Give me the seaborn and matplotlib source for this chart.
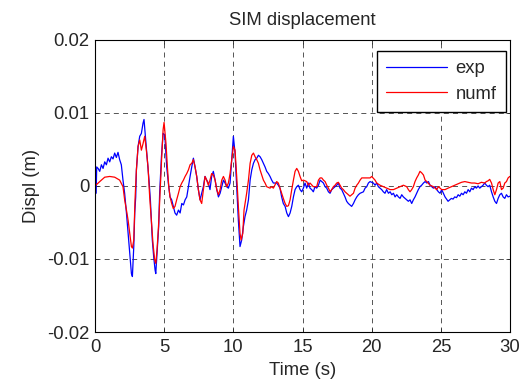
import seaborn as sns
import matplotlib.pyplot as plt
import pandas as pd

# exp (measured) -- time in s, displacement in mm
t_exp = [0.0, 0.08, 0.12, 0.22, 0.34, 0.46, 0.58, 0.70, 0.82, 0.94, 1.06, 1.18, 1.30, 1.42, 1.54,
         1.66, 1.78, 1.90, 2.02, 2.14, 2.27, 2.39, 2.51, 2.63, 2.70, 2.80, 2.87, 2.94, 2.99, 3.11,
         3.23, 3.35, 3.47, 3.54, 3.66, 3.76, 3.90, 4.00, 4.07, 4.14, 4.24, 4.34, 4.39, 4.48, 4.60,
         4.67, 4.80, 4.92, 5.04, 5.18, 5.30, 5.42, 5.54, 5.66, 5.78, 5.90, 6.03, 6.15, 6.27, 6.39,
         6.51, 6.63, 6.75, 6.87, 6.99, 7.11, 7.23, 7.35, 7.47, 7.59, 7.71, 7.83, 7.95, 8.07, 8.19,
         8.31, 8.43, 8.55, 8.68, 8.80, 8.92, 9.04, 9.16, 9.28, 9.40, 9.52, 9.64, 9.76, 9.88, 10.00,
         10.12, 10.24, 10.36, 10.48, 10.60, 10.72, 10.84, 10.96, 11.09, 11.21, 11.33, 11.45, 11.57,
         11.69, 11.81, 11.93, 12.05, 12.17, 12.29, 12.41, 12.53, 12.65, 12.77, 12.89, 13.13, 13.25,
         13.37, 13.49, 13.61, 13.74, 13.86, 13.98, 14.10, 14.22, 14.34, 14.46, 14.58, 14.70, 14.82,
         14.94, 15.06, 15.18, 15.30, 15.42, 15.54, 15.66, 15.78, 15.90, 16.02, 16.15, 16.27, 16.39,
         16.51, 16.63, 16.75, 16.87, 16.99, 17.11, 17.23, 17.35, 17.47, 17.59, 17.71, 17.83, 17.95,
         18.07, 18.19, 18.31, 18.43, 18.55, 18.68, 18.80, 18.92, 19.04, 19.16, 19.40, 19.52, 19.64,
         19.76, 19.88, 20.12, 20.24, 20.36, 20.48, 20.60, 20.72, 20.84, 20.96, 21.08, 21.21, 21.33,
         21.45, 21.57, 21.69, 21.81, 21.93, 22.05, 22.17, 22.29, 22.41, 22.53, 22.65, 22.77, 22.89,
         23.01, 23.13, 23.25, 23.37, 23.49, 23.61, 23.74, 23.86, 23.98, 24.10, 24.22, 24.34, 24.46,
         24.58, 24.70, 24.82, 24.94, 25.06, 25.18, 25.30, 25.52, 25.64, 25.76, 25.88, 26.00, 26.13,
         26.25, 26.37, 26.49, 26.61, 26.73, 26.85, 26.97, 27.09, 27.21, 27.33, 27.45, 27.57, 27.69,
         27.81, 27.93, 28.05, 28.17, 28.29, 28.41, 28.53, 28.66, 28.78, 28.90, 29.02, 29.14, 29.26,
         29.38, 29.50, 29.62, 29.74, 29.86, 30.00]
d_exp = [0.0, -1.0, 2.6, 2.4, 2.0, 2.9, 2.4, 3.3, 2.9, 3.8, 3.3, 4.0, 3.7, 4.5, 3.9,
         4.6, 3.6, 2.9, 0.8, -1.0, -3.7, -6.5, -9.2, -12.0, -12.4, -8.3, -3.7, -1.5, 2.2, 5.4,
         6.8, 7.2, 8.6, 9.1, 6.3, 4.0, 0.8, -1.9, -4.7, -7.4, -9.7, -11.5, -12.0, -9.2, -5.6,
         -1.0, 4.0, 7.2, 7.0, 2.6, 0.4, -1.5, -1.9, -2.8, -3.7, -4.0, -3.3, -3.7, -2.4, -2.6,
         -1.9, -1.5, -0.1, 1.3, 2.6, 3.8, 2.6, 1.3, -0.5, -1.9, -1.0, -0.1, 1.3, 0.8, 0.4,
         -0.5, 1.3, 2.0, 0.8, -0.5, -1.5, -1.0, -0.1, 0.8, 0.4, -0.1, -0.3, 0.4, 3.6, 6.8,
         4.5, -0.1, -4.7, -8.3, -7.4, -5.6, -4.2, -3.3, -1.9, 0.8, 2.2, 3.1, 3.6,
         3.8, 4.2, 4.0, 3.6, 3.1, 2.6, 2.0, 1.7, 1.3, 0.8, 0.4, 0.4, 0.1,
         -0.3, -1.5, -2.4, -2.8, -3.7, -4.2, -3.7, -2.8, -1.5, -0.5, -0.1, 0.1, -0.5,
         -0.8, -0.3, 0.4, -0.3, 0.4, -0.3, -0.5, -0.8, -0.1, -0.3, 0.1, 0.8, 0.6,
         0.4, -0.1, -0.3, -0.8, -1.0, -0.5, -0.3, -0.1, 0.1, 0.4, -0.3, -0.5, -1.0,
         -1.5, -2.1, -2.4, -2.6, -2.8, -2.4, -1.9, -1.5, -1.2, -1.0, -0.8, -0.3, -0.1,
         0.4, 0.6, 0.4, 0.1, 0.4, -0.1, -0.3, -0.5, -0.8, -1.0, -0.5, -1.0, -0.8,
         -1.2, -1.0, -1.5, -1.2, -1.5, -1.7, -1.2, -1.5, -1.7, -1.9, -2.1, -1.9, -2.4,
         -1.9, -1.5, -1.0, -0.5, -0.1, 0.1, 0.4, 0.6, 0.4, 0.6, 0.1, -0.1, -0.3,
         -0.1, -0.5, -0.8, -1.0, -0.5, -1.0, -1.5, -2.1, -1.9, -1.7, -1.8, -1.5, -1.6,
         -1.2, -1.4, -1.0, -1.2, -0.8, -1.0, -0.5, -0.8, -0.3, -0.5, -0.1, -0.3, 0.0,
         -0.3, -0.1, 0.1, 0.4, 0.1, -0.1, 0.1, -0.8, -1.5, -2.1, -2.4, -1.7, -1.2,
         -1.0, -1.5, -1.7, -1.2, -1.5, -1.4]

# numf (numerical)
t_num = [0.0, 0.34, 0.70, 1.06, 1.42, 1.78, 2.02, 2.14, 2.27, 2.39, 2.51, 2.63, 2.70, 2.80, 2.89,
         2.99, 3.11, 3.23, 3.35, 3.47, 3.59, 3.71, 3.83, 3.95, 4.07, 4.19, 4.31, 4.39, 4.48, 4.60,
         4.72, 4.82, 4.92, 4.99, 5.13, 5.23, 5.33, 5.42, 5.54, 5.66, 5.78, 5.90, 6.03, 6.15, 6.27,
         6.39, 6.51, 6.63, 6.75, 6.87, 6.99, 7.11, 7.23, 7.35, 7.47, 7.59, 7.71, 7.83, 7.95, 8.07,
         8.19, 8.31, 8.43, 8.55, 8.68, 8.80, 8.92, 9.04, 9.16, 9.28, 9.40, 9.52, 9.64, 9.76, 9.88,
         10.00, 10.12, 10.24, 10.36, 10.48, 10.56, 10.68, 10.77, 10.96, 11.09, 11.21, 11.33, 11.45,
         11.57, 11.69, 11.81, 11.93, 12.05, 12.17, 12.29, 12.41, 12.65, 12.77, 12.89, 13.13, 13.25,
         13.37, 13.49, 13.61, 13.74, 13.86, 13.98, 14.10, 14.22, 14.34, 14.46, 14.58, 14.70, 14.82,
         14.94, 15.06, 15.30, 15.42, 15.54, 15.78, 16.02, 16.15, 16.27, 16.39, 16.51, 16.63, 16.75,
         16.87, 16.99, 17.11, 17.23, 17.35, 17.47, 17.59, 17.71, 17.83, 17.95, 18.07, 18.19, 18.31,
         18.43, 18.55, 18.68, 18.80, 18.92, 19.04, 19.16, 19.28, 19.64, 19.88, 20.00, 20.24, 20.36,
         20.60, 20.84, 21.08, 21.33, 21.57, 21.81, 22.05, 22.29, 22.53, 22.65, 22.77, 22.89, 23.01,
         23.13, 23.25, 23.37, 23.49, 23.61, 23.74, 23.86, 23.98, 24.22, 24.46, 24.58, 24.70, 24.82,
         25.06, 25.30, 25.52, 25.76, 26.00, 26.25, 26.49, 26.73, 26.97, 27.21, 27.45, 27.69, 27.93,
         28.17, 28.29, 28.41, 28.53, 28.66, 28.78, 28.90, 29.02, 29.14, 29.26, 29.38, 29.50, 29.62,
         29.74, 29.86, 29.98]
d_num = [0.0, 0.6, 1.2, 1.3, 1.2, 0.8, -0.1, -1.9, -3.3, -4.7, -6.5, -8.3, -8.5, -7.4, -1.9,
         2.2, 5.4, 6.3, 4.9, 5.8, 6.8, 4.9, 2.6, -1.5, -4.7, -7.9, -10.1, -10.6, -8.8, -5.1,
         -0.1, 4.0, 7.7, 8.7, 5.8, 2.6, -0.1, -1.5, -2.4, -3.1, -2.8, -1.9, -1.0, -0.1, 0.4,
         0.8, 1.3, 1.7, 2.2, 2.9, 3.1, 3.6, 2.6, 1.3, -0.5, -1.9, -2.4, -0.5, 1.3, 0.8,
         0.1, 0.8, 1.7, 1.5, 0.8, -0.5, -1.2, -0.5, 0.8, 1.3, 0.8, -0.1, 0.4, 1.7, 3.6,
         5.4, 4.9, 1.3, -2.8, -6.5, -7.4, -6.5, -3.3, -1.0, 0.8, 3.1, 4.2, 4.5,
         4.0, 3.6, 3.1, 2.2, 1.5, 0.8, 0.4, -0.1, -0.3, -0.1, -0.3, 0.6, 0.4,
         -0.3, -1.0, -1.7, -2.4, -2.8, -2.7, -1.9, -0.5, 0.8, 2.0, 2.4, 2.0, 1.3,
         0.7, 0.8, 0.6, 0.1, 0.4, -0.1, -0.1, 0.8, 1.1, 1.1, 0.8, 0.6, 0.1,
         -0.3, -0.8, -0.5, -0.1, 0.1, 0.4, 0.5, 0.1, -0.3, -0.5, -0.8, -1.0, -1.2,
         -1.4, -1.2, -1.0, -0.3, 0.1, 0.4, 0.8, 1.1, 1.1, 1.1, 1.3, 0.8, 0.4,
         0.1, -0.1, -0.3, -0.5, -0.5, -0.3, -0.1, 0.1, -0.1, -0.5, -0.8, -0.5, -0.1,
         0.6, 1.1, 1.5, 2.0, 1.8, 1.5, 0.8, 0.6, 0.1, -0.1, -0.3, -0.5, -0.1,
         -0.5, -0.5, -0.3, -0.1, 0.1, 0.3, 0.5, 0.6, 0.5, 0.4, 0.4, 0.3, 0.5,
         0.4, 0.6, 0.7, 0.9, 0.4, -0.5, -1.2, -0.5, 0.4, 0.6, -0.5, -0.3, 0.4,
         0.6, 1.1, 1.3]

x_ticks = [0, 5, 10, 15, 20, 25, 30]
y_ticks = [-0.02, -0.01, 0, 0.01, 0.02]
y_labels = ['-0.02', '-0.01', '0', '0.01', '0.02']

df = pd.concat([
    pd.DataFrame({'t': t_exp, 'd': [v / 1000 for v in d_exp], 'serie': 'exp'}),
    pd.DataFrame({'t': t_num, 'd': [v / 1000 for v in d_num], 'serie': 'numf'}),
])

sns.set_style('ticks')
plt.rcParams['font.family'] = ['Liberation Sans', 'DejaVu Sans']
fs = 13.3

fig = plt.figure(figsize=(5.28, 3.87), dpi=100)
ax = fig.add_axes([0.180, 0.142, 0.786, 0.755])

sns.lineplot(data=df, x='t', y='d', hue='serie', palette={'exp': '#0000ff', 'numf': '#ff0000'},
             estimator=None, sort=False, linewidth=0.9, ax=ax)

ax.set_xlim(0, 30)
ax.set_ylim(-0.02, 0.02)
ax.set_xticks(x_ticks)
ax.set_xticklabels([str(v) for v in x_ticks])
ax.set_yticks(y_ticks)
ax.set_yticklabels(y_labels)
ax.tick_params(direction='in', top=True, right=True, labelsize=fs, length=3, width=0.6)
ax.tick_params(axis='x', pad=5)
ax.tick_params(axis='y', pad=4)
ax.grid(True, color='#3a3a3a', linestyle=(0, (6, 5)), linewidth=0.6)
for s in ax.spines.values():
    s.set_color('black')
    s.set_linewidth(0.8)

ax.set_title('SIM displacement', fontsize=fs, pad=11)
ax.set_xlabel('Time (s)', fontsize=fs, labelpad=4)
ax.set_ylabel('Displ (m)', fontsize=fs, labelpad=5)

ax.legend(loc='upper right', bbox_to_anchor=(0.990, 0.962), borderaxespad=0, fontsize=fs,
          frameon=True, fancybox=False, edgecolor='black', framealpha=1, handlelength=3.3,
          handletextpad=0.45, labelspacing=0.45, borderpad=0.5)

fig.savefig('out.png', dpi=100)
